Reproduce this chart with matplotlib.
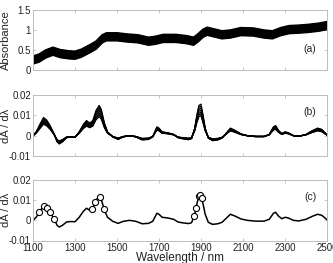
import numpy as np
import matplotlib
matplotlib.use("Agg")
import matplotlib.pyplot as plt

plt.rcParams['font.family'] = ['Liberation Sans', 'DejaVu Sans']

# ---------------- data ----------------
abs_wl = [1100, 1130, 1160, 1195, 1230, 1270, 1300, 1330, 1370, 1400, 1430, 1450,
          1500, 1550, 1600, 1650, 1680, 1720, 1780, 1830, 1865, 1885, 1910, 1930,
          1960, 2000, 2040, 2090, 2150, 2200, 2240, 2280, 2320, 2360, 2410, 2460, 2500]
abs_mean = [0.25, 0.30, 0.40, 0.47, 0.41, 0.38, 0.37, 0.42, 0.53, 0.62, 0.78, 0.83,
            0.83, 0.80, 0.78, 0.72, 0.74, 0.79, 0.79, 0.76, 0.72, 0.80, 0.92, 0.97,
            0.93, 0.88, 0.90, 0.96, 0.95, 0.90, 0.88, 0.96, 1.01, 1.02, 1.04, 1.07, 1.11]
abs_offsets = [-0.095, -0.08, -0.065, -0.05, -0.035, -0.02, -0.005, 0.005, 0.02,
               0.035, 0.05, 0.065, 0.08, 0.095]

der_wl = [1100, 1115, 1130, 1150, 1165, 1180, 1200, 1215, 1225, 1240, 1260, 1280,
          1300, 1320, 1340, 1355, 1370, 1385, 1400, 1415, 1425, 1440, 1455, 1480,
          1505, 1530, 1560, 1590, 1620, 1650, 1670, 1690, 1700, 1715, 1740, 1770,
          1790, 1810, 1840, 1855, 1870, 1880, 1890, 1900, 1910, 1920, 1935, 1955,
          1980, 2000, 2020, 2040, 2060, 2090, 2120, 2160, 2200, 2225, 2245, 2255,
          2270, 2285, 2300, 2315, 2340, 2365, 2400, 2430, 2455, 2475, 2490, 2500]
der_mean = [0.0000, 0.0015, 0.0040, 0.0072, 0.0062, 0.0042, 0.0008, -0.0025, -0.0033,
            -0.0025, -0.0008, -0.0006, -0.0007, 0.0015, 0.0045, 0.0060, 0.0050, 0.0060,
            0.0100, 0.0120, 0.0105, 0.0050, 0.0015, -0.0005, -0.0015, -0.0005, 0.0000,
            -0.0005, -0.0017, -0.0015, -0.0005, 0.0035, 0.0030, 0.0015, 0.0012, 0.0005,
            -0.0008, -0.0012, -0.0016, -0.0012, 0.0030, 0.0080, 0.0120, 0.0125, 0.0080,
            0.0030, -0.0010, -0.0020, -0.0017, -0.0010, 0.0010, 0.0030, 0.0022, 0.0007,
            0.0000, -0.0004, -0.0004, 0.0005, 0.0035, 0.0040, 0.0020, 0.0008, 0.0015,
            0.0012, 0.0000, -0.0003, 0.0005, 0.0020, 0.0030, 0.0025, 0.0012, 0.0003]
der_scales = [0.78, 0.85, 0.92, 1.0, 1.08, 1.16, 1.24]

sel_wl = [1130, 1150, 1165, 1180, 1200, 1380, 1397, 1419, 1438, 1867, 1876, 1890, 1897, 1903]

xticks = [1100, 1300, 1500, 1700, 1900, 2100, 2300, 2500]
abs_yticks = [0, 0.5, 1, 1.5]
der_yticks = [-0.01, 0, 0.01, 0.02]

# ---------------- plot ----------------
W, H = 333, 263
fig = plt.figure(figsize=(W / 100, H / 100), dpi=100)

def pos(top, bottom, left=33, right=327):
    return [left / W, 1 - bottom / H, (right - left) / W, (bottom - top) / H]

axa = fig.add_axes(pos(10, 70))
axb = fig.add_axes(pos(95, 156))
axc = fig.add_axes(pos(180, 240.5))

spine_col = '#bdbdbd'
txt_col = '#222222'

def style(ax, yticks, ylim, ylabel):
    ax.set_xlim(1100, 2500)
    ax.set_ylim(*ylim)
    ax.set_xticks(xticks)
    ax.set_yticks(yticks)
    ax.set_yticklabels(['%g' % v for v in yticks])
    ax.tick_params(direction='in', top=True, right=True, length=2.5, width=0.6,
                   color=spine_col, labelsize=7, labelcolor=txt_col, pad=1.5)
    for s in ax.spines.values():
        s.set_color(spine_col)
        s.set_linewidth(0.7)
    ax.set_ylabel(ylabel, fontsize=8, color=txt_col, labelpad=2)

abs_mean_arr = np.array(abs_mean)
for off in abs_offsets:
    axa.plot(abs_wl, abs_mean_arr + off, color='black', lw=1.4, solid_joinstyle='round')
style(axa, abs_yticks, (0, 1.5), 'Absorbance')
axa.set_xticklabels([])
axa.text(2420, 0.52, '(a)', fontsize=7.5, color=txt_col, ha='center', va='center')

der_arr = np.array(der_mean)
for s in der_scales:
    axb.plot(der_wl, der_arr * s, color='black', lw=0.9)
style(axb, der_yticks, (-0.01, 0.02), 'dA / d\u03bb')
axb.set_xticklabels([])
axb.text(2420, 0.0118, '(b)', fontsize=7.5, color=txt_col, ha='center', va='center')

axc.plot(der_wl, der_arr, color='black', lw=1.1)
sel_vals = np.interp(sel_wl, der_wl, der_arr)
axc.plot(sel_wl, sel_vals, linestyle='none', marker='o', markersize=4.4,
         markerfacecolor='white', markeredgecolor='black', markeredgewidth=0.8)
style(axc, der_yticks, (-0.01, 0.02), 'dA / d\u03bb')
axc.set_xticklabels([str(t) for t in xticks])
axc.set_xlabel('Wavelength / nm', fontsize=8.5, color=txt_col, labelpad=-0.5)
axc.text(2420, 0.0118, '(c)', fontsize=7.5, color=txt_col, ha='center', va='center')

for ax in (axa, axb, axc):
    ax.yaxis.set_label_coords(-0.075, 0.5)

fig.savefig('out.png', dpi=100)
